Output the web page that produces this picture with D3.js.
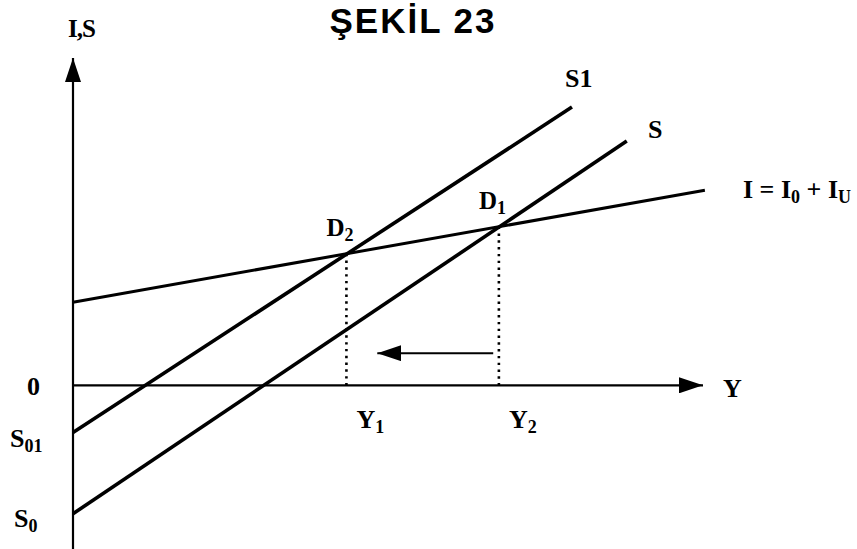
<!DOCTYPE html>
<html>
<head>
<meta charset="utf-8">
<script src="https://cdn.jsdelivr.net/npm/d3@7"></script>
<style>
  body { margin: 0; background: #fff; }
  svg text { font-family: "Liberation Serif", "Times New Roman", serif; font-weight: bold; fill: #000; }
</style>
</head>
<body>
<div id="chart"></div>
<script>
// line end points (income Y, I/S)
var lineI  = [[0, 13.2], [100.3, 31.0]];
var lineS1 = [[0, -7.5], [79.2, 44.2]];
var lineS  = [[0, -20.4], [87.9, 38.8]];
// equilibrium points
var eqNames = ["D2", "D1"];
var eqX = [43.4, 67.6];
var eqY = [20.9, 25.2];
var eqIncome = ["Y1", "Y2"];
// shift arrow Y2 -> Y1
var shiftFrom = [66.7, 5.1], shiftTo = [48.3, 5.1];

var width = 857, height = 549;

var x = d3.scaleLinear().domain([0, 100]).range([73, 703]);
var y = d3.scaleLinear().domain([-26, 52]).range([549, 58]);

var svg = d3.select("#chart").append("svg")
    .attr("width", width)
    .attr("height", height);

var defs = svg.append("defs");
defs.append("marker")
    .attr("id", "head")
    .attr("viewBox", "0 0 24 16")
    .attr("refX", 24).attr("refY", 8)
    .attr("markerWidth", 24).attr("markerHeight", 16)
    .attr("markerUnits", "userSpaceOnUse")
    .attr("orient", "auto")
  .append("path")
    .attr("d", "M0,0 L24,8 L0,16 Z")
    .attr("fill", "#000");

// title
svg.append("text")
    .attr("x", 413).attr("y", 33)
    .attr("text-anchor", "middle")
    .style("font-family", "'Liberation Sans', Arial, sans-serif")
    .style("font-size", "35px")
    .style("letter-spacing", "2px")
    .text("ŞEKİL 23");

// axes
svg.append("line")
    .attr("x1", x(0)).attr("y1", y(-26))
    .attr("x2", x(0)).attr("y2", y(52))
    .attr("stroke", "#000").attr("stroke-width", 2.2)
    .attr("marker-end", "url(#head)");
svg.append("line")
    .attr("x1", x(0)).attr("y1", y(0))
    .attr("x2", x(100)).attr("y2", y(0))
    .attr("stroke", "#000").attr("stroke-width", 2.2)
    .attr("marker-end", "url(#head)");

var line = d3.line().x(function(d) { return x(d[0]); }).y(function(d) { return y(d[1]); });

svg.append("path").datum(lineI).attr("d", line)
    .attr("fill", "none").attr("stroke", "#000").attr("stroke-width", 3);
svg.append("path").datum(lineS1).attr("d", line)
    .attr("fill", "none").attr("stroke", "#000").attr("stroke-width", 3.6);
svg.append("path").datum(lineS).attr("d", line)
    .attr("fill", "none").attr("stroke", "#000").attr("stroke-width", 3.6);

// dotted drops
svg.selectAll(".drop").data(eqX).enter().append("line")
    .attr("class", "drop")
    .attr("x1", function(d) { return x(d); })
    .attr("x2", function(d) { return x(d); })
    .attr("y1", function(d, i) { return y(eqY[i]); })
    .attr("y2", y(0))
    .attr("stroke", "#000").attr("stroke-width", 2.6)
    .attr("stroke-dasharray", "2.4,4.4");

// shift arrow
svg.append("line")
    .attr("x1", x(shiftFrom[0])).attr("y1", y(shiftFrom[1]))
    .attr("x2", x(shiftTo[0])).attr("y2", y(shiftTo[1]))
    .attr("stroke", "#000").attr("stroke-width", 2.2)
    .attr("marker-end", "url(#head)");

// labels with subscripts
function label(px, py, main, sub, size, anchor) {
  var t = svg.append("text")
      .attr("x", px).attr("y", py)
      .attr("text-anchor", anchor || "start")
      .style("font-size", (size || 24) + "px");
  t.append("tspan").text(main);
  if (sub) t.append("tspan").attr("dy", 5).style("font-size", "18px").text(sub);
  return t;
}

label(68, 37, "I,S", null, 25).style("letter-spacing", "-1px");
label(565, 87, "S1", null, 26);
label(648, 138, "S", null, 26);
label(27, 395, "0", null, 26);
label(10, 447, "S", "01", 26);
label(14, 527, "S", "0", 26);
label(723, 397, "Y", null, 26);

// D labels above equilibria, Y labels below axis
svg.selectAll(".dlab").data(eqNames).enter().each(function(d, i) {
  label(x(eqX[i]) - 20, y(eqY[i]) - 18, d[0], d[1], 25);
  label(x(eqX[i]) + 10, 428, eqIncome[i][0], eqIncome[i][1], 26);
});

// I = I0 + IU
var it = svg.append("text").attr("x", 743).attr("y", 198).style("font-size", "26px");
it.append("tspan").text("I = I");
it.append("tspan").attr("dy", 5).style("font-size", "18px").text("0");
it.append("tspan").attr("dy", -5).text(" + I");
it.append("tspan").attr("dy", 5).style("font-size", "18px").text("U");
</script>
</body>
</html>
